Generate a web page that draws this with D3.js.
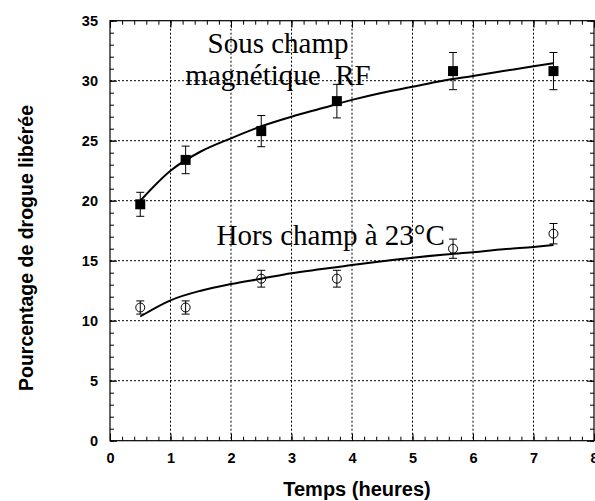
<!DOCTYPE html>
<html>
<head>
<meta charset="utf-8">
<script src="https://cdn.jsdelivr.net/npm/d3@7"></script>
<style>
  html, body { margin: 0; padding: 0; background: #fff; }
  svg { display: block; }
</style>
</head>
<body>
<svg id="chart" width="595" height="501"></svg>
<script>
// ---- data ----
const time = [0.5, 1.25, 2.5, 3.75, 5.67, 7.33];
const rfValues = [19.7, 23.4, 25.8, 28.3, 30.8, 30.8];
const rfErrors = [1.0, 1.15, 1.3, 1.4, 1.55, 1.55];
const ctrlValues = [11.1, 11.1, 13.5, 13.5, 16.0, 17.25];
const ctrlErrors = [0.55, 0.55, 0.7, 0.7, 0.8, 0.85];

// fitted curves
const fitTime = [0.5, 1, 1.5, 2, 2.5, 3, 3.5, 4, 4.5, 5, 5.5, 6, 6.5, 7, 7.33];
const rfFit = [20.0, 22.5, 24.1, 25.2, 26.2, 27.0, 27.7, 28.4, 29.0, 29.5, 30.0, 30.4, 30.8, 31.2, 31.45];
const ctrlFit = [10.35, 11.7, 12.5, 13.05, 13.5, 13.95, 14.3, 14.65, 14.95, 15.25, 15.5, 15.7, 15.95, 16.15, 16.3];

const xTicks = [0, 1, 2, 3, 4, 5, 6, 7, 8];
const yTicks = [0, 5, 10, 15, 20, 25, 30, 35];

const xTitle = "Temps (heures)";
const yTitle = "Pourcentage de drogue libérée";
const rfLabel1 = "Sous champ";
const rfLabel2 = "magnétique  RF";
const ctrlLabel = "Hors champ à 23°C";

// ---- layout ----
const svg = d3.select("#chart");
const L = 110, R = 594, T = 20.7, B = 440.7;
const x = d3.scaleLinear().domain([0, 8]).range([L, R]);
const y = d3.scaleLinear().domain([0, 35]).range([B, T]);

const sans = "'Liberation Sans', Arial, Helvetica, sans-serif";
const serif = "'Liberation Serif', 'Times New Roman', Times, serif";

// grid
const grid = svg.append("g").attr("stroke", "#000").attr("stroke-width", 1)
  .attr("stroke-dasharray", "2,2").attr("fill", "none");
grid.selectAll("line.v").data(xTicks.slice(1, -1)).join("line")
  .attr("class", "v")
  .attr("x1", d => x(d)).attr("x2", d => x(d))
  .attr("y1", T).attr("y2", B);
grid.selectAll("line.h").data(yTicks.slice(1, -1)).join("line")
  .attr("class", "h")
  .attr("x1", L).attr("x2", R)
  .attr("y1", d => y(d)).attr("y2", d => y(d));

// minor ticks (inward) on all four sides
const xMinor = d3.range(0, 8.001, 0.2);
const yMinor = d3.range(0, 35.001, 1);
function styleAxis(g) {
  g.select(".domain").remove();
  g.selectAll(".tick line").attr("stroke", "#000").attr("stroke-width", 1);
}
svg.append("g").attr("transform", `translate(0,${B})`)
  .call(d3.axisBottom(x).tickValues(xMinor).tickSize(-4).tickFormat(""))
  .call(styleAxis);
svg.append("g").attr("transform", `translate(0,${T})`)
  .call(d3.axisTop(x).tickValues(xMinor).tickSize(-4).tickFormat(""))
  .call(styleAxis);
svg.append("g").attr("transform", `translate(${L},0)`)
  .call(d3.axisLeft(y).tickValues(yMinor).tickSize(-4).tickFormat(""))
  .call(styleAxis);
svg.append("g").attr("transform", `translate(${R},0)`)
  .call(d3.axisRight(y).tickValues(yMinor).tickSize(-4).tickFormat(""))
  .call(styleAxis);

// major ticks with labels
const xAxis = svg.append("g").attr("transform", `translate(0,${B})`)
  .call(d3.axisBottom(x).tickValues(xTicks).tickSize(-7).tickPadding(12).tickFormat(d3.format("d")))
  .call(styleAxis);
xAxis.selectAll("text").attr("font-family", sans).attr("font-weight", "bold")
  .attr("font-size", 14.5).attr("fill", "#000");
const yAxis = svg.append("g").attr("transform", `translate(${L},0)`)
  .call(d3.axisLeft(y).tickValues(yTicks).tickSize(-7).tickPadding(12).tickFormat(d3.format("d")))
  .call(styleAxis);
yAxis.selectAll("text").attr("font-family", sans).attr("font-weight", "bold")
  .attr("font-size", 14.5).attr("fill", "#000");
svg.append("g").attr("transform", `translate(0,${T})`)
  .call(d3.axisTop(x).tickValues(xTicks).tickSize(-7).tickFormat(""))
  .call(styleAxis);
svg.append("g").attr("transform", `translate(${R},0)`)
  .call(d3.axisRight(y).tickValues(yTicks).tickSize(-7).tickFormat(""))
  .call(styleAxis);

// frame
svg.append("rect").attr("x", L).attr("y", T).attr("width", R - L).attr("height", B - T)
  .attr("fill", "none").attr("stroke", "#000").attr("stroke-width", 1.2);

// fitted curves
const line = d3.line().x(d => x(d[0])).y(d => y(d[1])).curve(d3.curveMonotoneX);
svg.append("path").datum(fitTime.map((t, i) => [t, rfFit[i]]))
  .attr("d", line).attr("fill", "none").attr("stroke", "#000").attr("stroke-width", 2);
svg.append("path").datum(fitTime.map((t, i) => [t, ctrlFit[i]]))
  .attr("d", line).attr("fill", "none").attr("stroke", "#000").attr("stroke-width", 2);

// error bars
function errorBars(vals, errs) {
  const g = svg.append("g").attr("stroke", "#000").attr("stroke-width", 1);
  const data = time.map((t, i) => ({ t, v: vals[i], e: errs[i] }));
  g.selectAll("line.stem").data(data).join("line").attr("class", "stem")
    .attr("x1", d => x(d.t)).attr("x2", d => x(d.t))
    .attr("y1", d => y(d.v + d.e)).attr("y2", d => y(d.v - d.e));
  g.selectAll("line.top").data(data).join("line").attr("class", "top")
    .attr("x1", d => x(d.t) - 4).attr("x2", d => x(d.t) + 4)
    .attr("y1", d => y(d.v + d.e)).attr("y2", d => y(d.v + d.e));
  g.selectAll("line.bot").data(data).join("line").attr("class", "bot")
    .attr("x1", d => x(d.t) - 4).attr("x2", d => x(d.t) + 4)
    .attr("y1", d => y(d.v - d.e)).attr("y2", d => y(d.v - d.e));
}
errorBars(rfValues, rfErrors);
errorBars(ctrlValues, ctrlErrors);

// markers
svg.append("g").selectAll("rect").data(time.map((t, i) => [t, rfValues[i]])).join("rect")
  .attr("x", d => x(d[0]) - 5).attr("y", d => y(d[1]) - 5)
  .attr("width", 10).attr("height", 10).attr("fill", "#000");
svg.append("g").selectAll("circle").data(time.map((t, i) => [t, ctrlValues[i]])).join("circle")
  .attr("cx", d => x(d[0])).attr("cy", d => y(d[1])).attr("r", 4.5)
  .attr("fill", "none").attr("stroke", "#000").attr("stroke-width", 1);

// annotations
svg.append("text").attr("x", 278).attr("y", 53).attr("text-anchor", "middle")
  .attr("font-family", serif).attr("font-size", 29).text(rfLabel1);
svg.append("text").attr("x", 278).attr("y", 85).attr("text-anchor", "middle")
  .attr("font-family", serif).attr("font-size", 29).style("white-space", "pre").text(rfLabel2);
svg.append("text").attr("x", 216.5).attr("y", 245).attr("text-anchor", "start")
  .attr("font-family", serif).attr("font-size", 29).text(ctrlLabel);

// axis titles
svg.append("text").attr("x", 357).attr("y", 496).attr("text-anchor", "middle")
  .attr("font-family", sans).attr("font-weight", "bold").attr("font-size", 20).text(xTitle);
svg.append("text").attr("transform", "translate(33,248) rotate(-90)").attr("text-anchor", "middle")
  .attr("font-family", sans).attr("font-weight", "bold").attr("font-size", 19.5).text(yTitle);
</script>
</body>
</html>
